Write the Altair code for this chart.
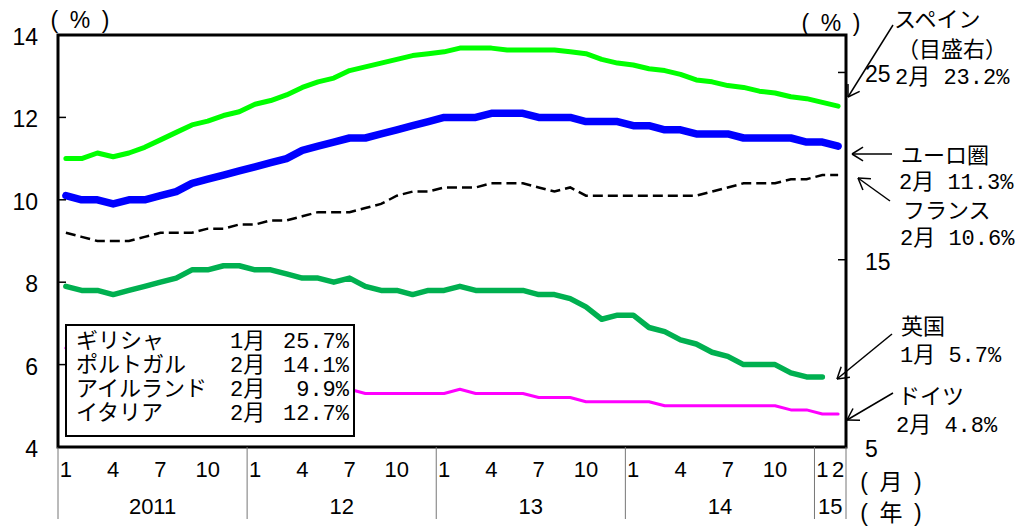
import math
import altair as alt
import pandas as pd

# ---------------- data (monthly, Jan 2011 - Feb 2015) ----------------
spain = [20.4, 20.4, 20.7, 20.5, 20.7, 21.0, 21.4, 21.8, 22.2, 22.4, 22.7, 22.9,
         23.3, 23.5, 23.8, 24.2, 24.5, 24.7, 25.1, 25.3, 25.5, 25.7, 25.9, 26.0,
         26.1, 26.3, 26.3, 26.3, 26.2, 26.2, 26.2, 26.2, 26.1, 26.0, 25.7, 25.5,
         25.4, 25.2, 25.1, 24.9, 24.6, 24.5, 24.3, 24.2, 24.0, 23.9, 23.7, 23.6,
         23.4, 23.2]
euro = [10.1, 10.0, 10.0, 9.9, 10.0, 10.0, 10.1, 10.2, 10.4, 10.5, 10.6, 10.7,
        10.8, 10.9, 11.0, 11.2, 11.3, 11.4, 11.5, 11.5, 11.6, 11.7, 11.8, 11.9,
        12.0, 12.0, 12.0, 12.1, 12.1, 12.1, 12.0, 12.0, 12.0, 11.9, 11.9, 11.9,
        11.8, 11.8, 11.7, 11.7, 11.6, 11.6, 11.6, 11.5, 11.5, 11.5, 11.5, 11.4,
        11.4, 11.3]
france = [9.2, 9.1, 9.0, 9.0, 9.0, 9.1, 9.2, 9.2, 9.2, 9.3, 9.3, 9.4,
          9.4, 9.5, 9.5, 9.6, 9.7, 9.7, 9.7, 9.8, 9.9, 10.1, 10.2, 10.2,
          10.3, 10.3, 10.3, 10.4, 10.4, 10.4, 10.3, 10.2, 10.3, 10.1, 10.1, 10.1,
          10.1, 10.1, 10.1, 10.1, 10.1, 10.2, 10.3, 10.4, 10.4, 10.4, 10.5, 10.5,
          10.6, 10.6]
uk = [7.9, 7.8, 7.8, 7.7, 7.8, 7.9, 8.0, 8.1, 8.3, 8.3, 8.4, 8.4,
      8.3, 8.3, 8.2, 8.1, 8.1, 8.0, 8.1, 7.9, 7.8, 7.8, 7.7, 7.8,
      7.8, 7.9, 7.8, 7.8, 7.8, 7.8, 7.7, 7.7, 7.6, 7.4, 7.1, 7.2,
      7.2, 6.9, 6.8, 6.6, 6.5, 6.3, 6.2, 6.0, 6.0, 6.0, 5.8, 5.7,
      5.7, None]
germany = [6.4, 6.3, 6.2, 6.1, 6.0, 5.9, 5.9, 5.8, 5.7, 5.6, 5.6, 5.5,
           5.5, 5.5, 5.5, 5.4, 5.4, 5.4, 5.4, 5.3, 5.3, 5.3, 5.3, 5.3,
           5.3, 5.4, 5.3, 5.3, 5.3, 5.3, 5.2, 5.2, 5.2, 5.1, 5.1, 5.1,
           5.1, 5.1, 5.0, 5.0, 5.0, 5.0, 5.0, 5.0, 5.0, 5.0, 4.9, 4.9,
           4.8, 4.8]

tick_idx = [0, 3, 6, 9, 12, 15, 18, 21, 24, 27, 30, 33, 36, 39, 42, 45, 48, 49]
tick_lbl = ["1", "4", "7", "10"] * 4 + ["1", "2"]
year_lbl = ["2011", "12", "13", "14", "15"]
year_bounds = [0, 12, 24, 36, 48, 50]

left_ticks = [4, 6, 8, 10, 12, 14]
right_ticks = [5, 15, 25]
right_tick_marks = [15, 25]

legend_names = ["ギリシャ", "ポルトガル", "アイルランド", "イタリア"]
legend_months = ["1月", "2月", "2月", "2月"]
legend_vals = ["25.7%", "14.1%", "9.9%", "12.7%"]

ann_spain = ["スペイン", "（目盛右）", "2月 23.2%"]
ann_euro = ["ユーロ圏", "2月 11.3%"]
ann_france = ["フランス", "2月 10.6%"]
ann_uk = ["英国", "1月 5.7%"]
ann_germany = ["ドイツ", "2月 4.8%"]

unit_pct = "(\u2002%\u2002)"
unit_month = "(\u2002月\u2002)"
unit_year = "(\u2002年\u2002)"

# ---------------- layout ----------------
X0, Y0 = 58, 35          # page position of plot origin
W, H = 788, 412
MONO = "Liberation Mono, Noto Sans CJK JP"
SANS = "Liberation Sans"
SANSJ = "Liberation Sans, Noto Sans CJK JP"

N = len(spain)
df = pd.DataFrame({"m": [i + 0.5 for i in range(N)], "spain": spain, "euro": euro,
                   "france": france, "uk": uk, "germany": germany})
one = pd.DataFrame({"k": [0]})

xs = alt.Scale(domain=[0, N], nice=False, zero=False)
yl = alt.Scale(domain=[4, 14], nice=False, zero=False)
yr = alt.Scale(domain=[5, 27], nice=False, zero=False)


def series(col, scale, **kw):
    return alt.Chart(df).mark_line(**kw).encode(
        x=alt.X("m:Q", scale=xs, axis=None),
        y=alt.Y(f"{col}:Q", scale=scale, axis=None))


def ptext(s, px, py, font=MONO, size=22, align="left", baseline="middle"):
    return alt.Chart(one).mark_text(font=font, fontSize=size, align=align,
                                    baseline=baseline, color="black").encode(
        text=alt.value(s), x=alt.value(px - X0), y=alt.value(py - Y0))


def arrow(x1, y1, x2, y2, head=13, ang=32):
    dx, dy = x1 - x2, y1 - y2
    L = math.hypot(dx, dy)
    ux, uy = dx / L, dy / L
    segs = [(x1, y1, x2, y2)]
    for s in (1, -1):
        a = math.radians(ang * s)
        rx = ux * math.cos(a) - uy * math.sin(a)
        ry = ux * math.sin(a) + uy * math.cos(a)
        segs.append((x2, y2, x2 + head * rx, y2 + head * ry))
    return [alt.Chart(one).mark_rule(color="black", strokeWidth=1.5).encode(
        x=alt.value(a - X0), y=alt.value(b - Y0),
        x2=alt.value(c - X0), y2=alt.value(d - Y0)) for a, b, c, d in segs]


# inward tick marks
tickL = alt.Chart(pd.DataFrame({"v": left_ticks})).mark_rule(
    color="black", strokeWidth=1.5).encode(
    y=alt.Y("v:Q", scale=yl, axis=None), x=alt.value(0), x2=alt.value(8))
tickR = alt.Chart(pd.DataFrame({"v": right_tick_marks})).mark_rule(
    color="black", strokeWidth=1.5).encode(
    y=alt.Y("v:Q", scale=yr, axis=None), x=alt.value(W - 8), x2=alt.value(W))

# axis labels as text
labL = alt.Chart(pd.DataFrame({"v": left_ticks})).mark_text(
    font=SANS, fontSize=23, align="right", baseline="middle", dy=3, color="black").encode(
    y=alt.Y("v:Q", scale=yl, axis=None), x=alt.value(38 - X0), text="v:Q")
labR = alt.Chart(pd.DataFrame({"v": right_ticks})).mark_text(
    font=SANS, fontSize=23, align="left", baseline="middle", dy=3, color="black").encode(
    y=alt.Y("v:Q", scale=yr, axis=None), x=alt.value(865 - X0), text="v:Q")

l_germany = series("germany", yl, color="#FF00FF", strokeWidth=3, strokeCap="round", strokeJoin="round")
l_uk = series("uk", yl, color="#00B050", strokeWidth=5.5, strokeCap="round", strokeJoin="round")
l_france = series("france", yl, color="black", strokeWidth=2.5, strokeDash=[10, 5])
l_euro = series("euro", yl, color="#0000FF", strokeWidth=7.5, strokeCap="round", strokeJoin="round")
l_spain = series("spain", yr, color="#00FF00", strokeWidth=5, strokeCap="round", strokeJoin="round")

box = alt.Chart(one).mark_rect(fill="white", stroke="black", strokeWidth=2).encode(
    x=alt.value(66 - X0), x2=alt.value(354 - X0), y=alt.value(325 - Y0), y2=alt.value(436 - Y0))

leg = pd.DataFrame({"names": ["\n".join(legend_names)],
                    "months": ["\n".join(legend_months)],
                    "vals": ["\n".join(legend_vals)]})


def legcol(field, px, align):
    return alt.Chart(leg).mark_text(align=align, baseline="top", lineBreak="\n",
                                    lineHeight=24, font=MONO, fontSize=22,
                                    color="black").encode(
        text=f"{field}:N", x=alt.value(px - X0), y=alt.value(331 - Y0))


sep = alt.Chart(pd.DataFrame({"b": year_bounds})).mark_rule(color="#777", strokeWidth=1).encode(
    x=alt.X("b:Q", scale=xs, axis=None), y=alt.value(H), y2=alt.value(519 - Y0))

mlab = alt.Chart(pd.DataFrame({"m": [i + 0.5 for i in tick_idx], "t": tick_lbl})).mark_text(
    font=SANS, fontSize=22, align="center", baseline="middle", color="black").encode(
    x=alt.X("m:Q", scale=xs, axis=None), y=alt.value(470 - Y0), text="t:N")

ylab = alt.Chart(pd.DataFrame({
    "m": [(year_bounds[i] + year_bounds[i + 1]) / 2 for i in range(len(year_lbl))],
    "t": year_lbl})).mark_text(
    font=SANS, fontSize=22, align="center", baseline="middle", color="black").encode(
    x=alt.X("m:Q", scale=xs, axis=None), y=alt.value(507 - Y0), text="t:N")

left = alt.layer(l_germany, l_uk, l_france, l_euro, box,
                 legcol("names", 76, "left"), legcol("months", 230, "left"),
                 legcol("vals", 349, "right"),
                 sep, mlab, ylab, tickL, labL)
right = alt.layer(tickR, labR, l_spain)

texts = [
    ptext(unit_pct, 80, 21, font=SANSJ, size=23, align="center"),
    ptext(unit_pct, 831, 24, font=SANSJ, size=23, align="center"),
    ptext(unit_month, 891, 483, font=SANSJ, size=23, align="center"),
    ptext(unit_year, 891, 514, font=SANSJ, size=23, align="center"),
    ptext(ann_spain[0], 894, 20), ptext(ann_spain[1], 897, 50), ptext(ann_spain[2], 895, 77),
    ptext(ann_euro[0], 901, 156), ptext(ann_euro[1], 899, 182),
    ptext(ann_france[0], 903, 211), ptext(ann_france[1], 900, 238),
    ptext(ann_uk[0], 901, 327), ptext(ann_uk[1], 900, 355),
    ptext(ann_germany[0], 898, 397), ptext(ann_germany[1], 896, 425),
]
arrows = (arrow(893, 25, 848, 97) + arrow(892, 154, 852, 154) +
          arrow(890, 201, 858, 178) + arrow(892, 334, 837, 379) +
          arrow(893, 393, 847, 420))
annot = alt.layer(*texts, *arrows)

chart = alt.layer(left, right, annot).resolve_scale(y="independent").properties(
    width=W, height=H,
    autosize=alt.AutoSizeParams(type="none"),
    padding={"left": X0 - 8, "top": Y0 - 8, "right": 1007 - (X0 - 8) - W, "bottom": 95},
).configure_view(stroke="black", strokeWidth=3)

chart.save("out.html", embed_options={"renderer": "svg", "actions": False})
